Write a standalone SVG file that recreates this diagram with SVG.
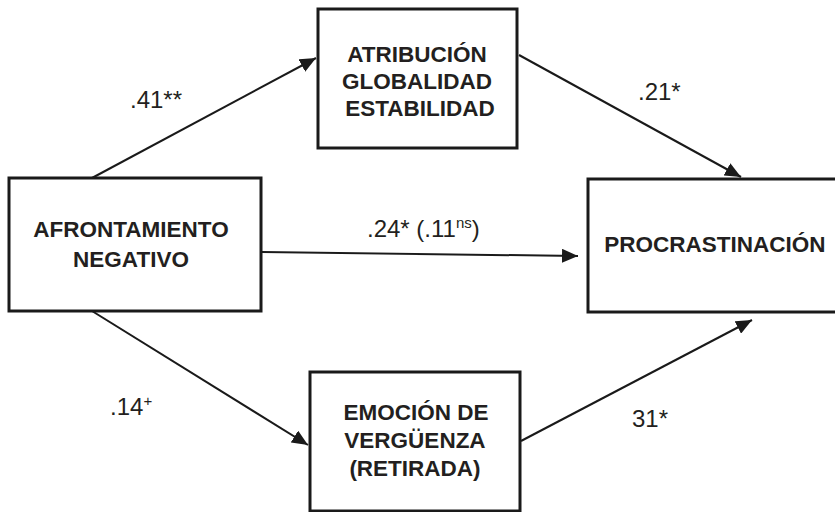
<svg xmlns="http://www.w3.org/2000/svg" width="835" height="512" viewBox="0 0 835 512">
<defs>
<marker id="ah" markerUnits="userSpaceOnUse" markerWidth="16" markerHeight="14" viewBox="0 0 16 14" refX="16" refY="7" orient="auto">
<path d="M0,0 L16,7 L0,14 Z" fill="#1a1a1a"/>
</marker>
</defs>
<style>
.box{fill:#fff;stroke:#1a1a1a;stroke-width:3}
.nt{font-family:"Liberation Sans",Arial,sans-serif;font-weight:bold;font-size:22.5px;fill:#231f20;text-anchor:middle}
.lb{font-family:"Liberation Sans",Arial,sans-serif;font-size:24px;fill:#231f20}
.sup{font-size:15px}
.ed{stroke:#1a1a1a;stroke-width:2;fill:none;marker-end:url(#ah)}
</style>
<rect width="835" height="512" fill="#fff"/>
<g id="connectors">
<line class="ed" x1="92" y1="178" x2="316" y2="58"/>
<line class="ed" x1="519" y1="55" x2="741" y2="177"/>
<line class="ed" x1="262" y1="252" x2="578" y2="256"/>
<line class="ed" x1="92" y1="311" x2="308" y2="445"/>
<line class="ed" x1="521" y1="441" x2="752" y2="320"/>
</g>
<g id="node-atribucion">
<rect class="box" x="318" y="9" width="199" height="139"/>
<text class="nt" x="417" y="62">ATRIBUCIÓN</text>
<text class="nt" x="417" y="89">GLOBALIDAD</text>
<text class="nt" x="420" y="116">ESTABILIDAD</text>
</g>
<g id="node-afrontamiento">
<rect class="box" x="9" y="178" width="252" height="133"/>
<text class="nt" x="131" y="237">AFRONTAMIENTO</text>
<text class="nt" x="131" y="267">NEGATIVO</text>
</g>
<g id="node-procrastinacion">
<rect class="box" x="588" y="179" width="260" height="133"/>
<text class="nt" x="715" y="252">PROCRASTINACIÓN</text>
</g>
<g id="node-emocion">
<rect class="box" x="310" y="372" width="210" height="139"/>
<text class="nt" x="416" y="420">EMOCIÓN DE</text>
<text class="nt" x="415" y="448">VERGÜENZA</text>
<text class="nt" x="415" y="476">(RETIRADA)</text>
</g>
<g id="labels">
<text class="lb" x="130" y="108">.41**</text>
<text class="lb" x="638" y="100">.21*</text>
<text class="lb" x="367" y="237">.24* (.11<tspan class="sup" dy="-9">ns</tspan><tspan dy="9">)</tspan></text>
<text class="lb" x="110" y="415">.14<tspan class="sup" dy="-9">+</tspan></text>
<text class="lb" x="632" y="427">31*</text>
</g>
</svg>
